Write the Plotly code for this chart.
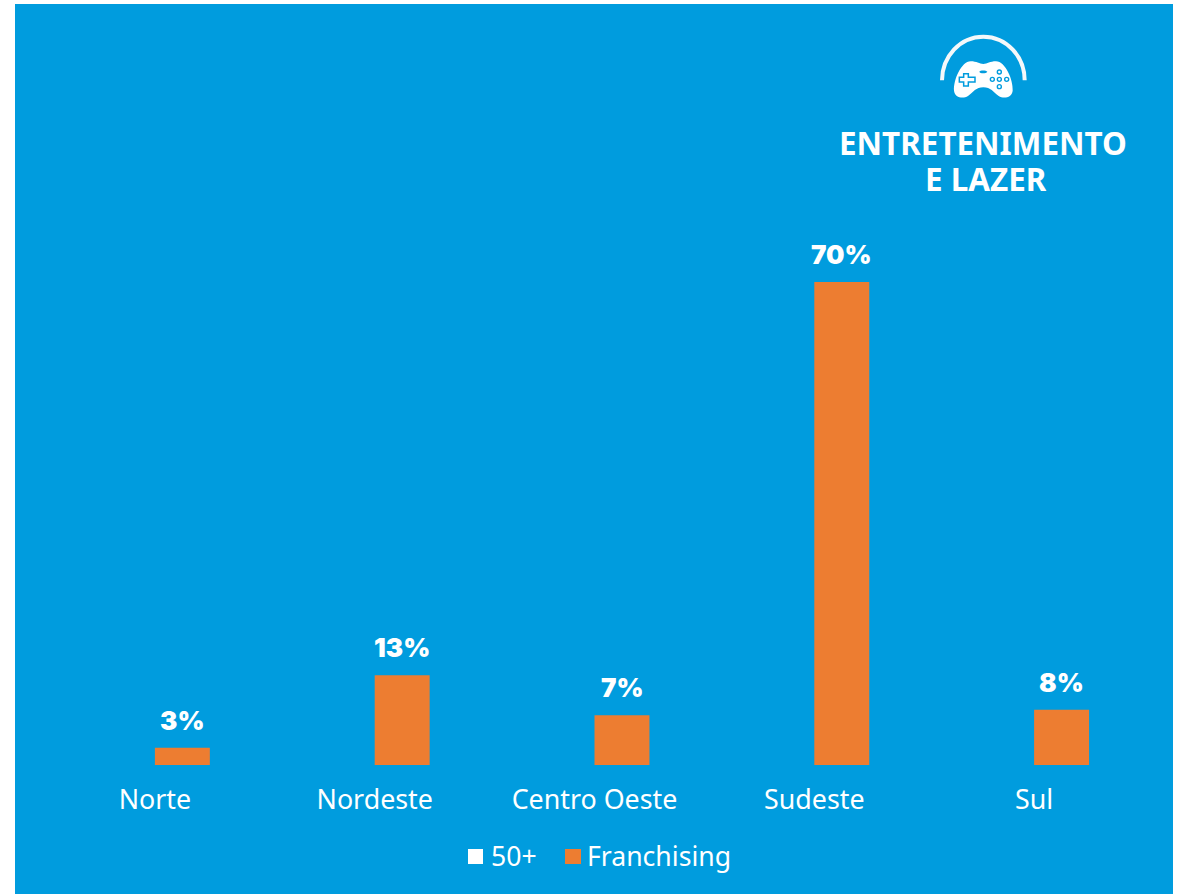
import plotly.graph_objects as go

categories = ["Norte", "Nordeste", "Centro Oeste", "Sudeste", "Sul"]
series_50 = [0, 0, 0, 0, 0]
series_franchising = [2.5, 13, 7.2, 70, 8]
value_labels = ["3%", "13%", "7%", "70%", "8%"]
series_names = ["50+", "Franchising"]

BLUE = "#009CDE"
ORANGE = "#ED7D31"
W, H = 1184, 894
L, R, T, B = 45, 40, 213, 129
PW, PH = W - L - R, H - T - B
BODY = "Noto Sans"


def X(p):
    return (p - L) / PW


def Y(p):
    return (H - B - p) / PH


def zx(z):
    return 820 + z / 3


def zy(z):
    return 20 + z / 3


def path(cmds):
    """Decorative logo path: pixel-like zoom coordinates converted to paper."""
    out = []
    for c in cmds:
        op, pts = c[0], c[1:]
        out.append(op + " ".join(f"{X(zx(a)):.5f},{Y(zy(b)):.5f}" for a, b in pts))
    return " ".join(out) + (" Z" if cmds[-1][0] == "Z" else "")


def paper_shape(d, fill=None, line=None, width=0):
    return dict(type="path", xref="paper", yref="paper", path=d,
                fillcolor=fill if fill else "rgba(0,0,0,0)",
                line=dict(color=line if line else "rgba(0,0,0,0)", width=width))


def circle(cx, cy, r):
    k = r * 0.55
    return path([
        ("M", (cx - r, cy)),
        ("C", (cx - r, cy - k), (cx - k, cy - r), (cx, cy - r)),
        ("C", (cx + k, cy - r), (cx + r, cy - k), (cx + r, cy)),
        ("C", (cx + r, cy + k), (cx + k, cy + r), (cx, cy + r)),
        ("C", (cx - k, cy + r), (cx - r, cy + k), (cx - r, cy)),
        ("Z",),
    ])


shapes = [
    dict(type="rect", xref="paper", yref="paper", layer="below",
         x0=X(15), x1=X(1173), y0=Y(4), y1=Y(894),
         fillcolor=BLUE, line=dict(width=0)),
    # logo arc
    paper_shape(path([
        ("M", (366, 181)),
        ("C", (366, 110), (420, 50), (490, 50)),
        ("C", (560, 50), (614, 110), (614, 181)),
    ]), line="#F4F8FA", width=4),
    # controller body
    paper_shape(path([
        ("M", (452, 124)),
        ("C", (470, 124), (478, 132), (490, 132)),
        ("C", (502, 132), (510, 124), (528, 124)),
        ("C", (556, 124), (580, 180), (578, 212)),
        ("C", (576, 232), (552, 238), (536, 228)),
        ("C", (520, 216), (512, 202), (490, 202)),
        ("C", (468, 202), (460, 216), (444, 228)),
        ("C", (428, 238), (404, 232), (402, 212)),
        ("C", (400, 180), (424, 124), (452, 124)),
        ("Z",),
    ]), fill="white"),
    # d-pad
    paper_shape(path([
        ("M", (431, 161)), ("L", (445, 161)), ("L", (445, 172)), ("L", (465, 172)),
        ("L", (465, 186)), ("L", (445, 186)), ("L", (445, 198)), ("L", (431, 198)),
        ("L", (431, 186)), ("L", (418, 186)), ("L", (418, 172)), ("L", (431, 172)),
        ("Z",),
    ]), fill="white", line=BLUE, width=1.5),
    # centre slot
    paper_shape(path([
        ("M", (478, 155)),
        ("C", (480, 150), (498, 150), (502, 155)),
        ("C", (498, 161), (480, 161), (478, 155)),
        ("Z",),
    ]), fill=BLUE),
]
for cx, cy in [(538, 156), (517, 178), (538, 178), (560, 178), (538, 200)]:
    shapes.append(paper_shape(circle(cx, cy, 6), fill="white", line=BLUE, width=1.4))

# legend swatches
shapes.append(dict(type="rect", xref="paper", yref="paper",
                   x0=X(468), x1=X(483), y0=Y(849), y1=Y(864),
                   fillcolor="white", line=dict(width=0)))
shapes.append(dict(type="rect", xref="paper", yref="paper",
                   x0=X(565), x1=X(581), y0=Y(849), y1=Y(864),
                   fillcolor=ORANGE, line=dict(width=0)))

annotations = [
    dict(xref="paper", yref="paper", x=X(983), y=Y(142.5), text="<b>ENTRETENIMENTO</b>",
         showarrow=False, xanchor="center", yanchor="middle", height=32,
         font=dict(family=BODY, size=31.4, color="white")),
    dict(xref="paper", yref="paper", x=X(986), y=Y(177.5), text="<b>E LAZER</b>",
         showarrow=False, xanchor="center", yanchor="middle", height=32,
         font=dict(family=BODY, size=31.4, color="white")),
    dict(xref="paper", yref="paper", x=X(489), y=Y(856), text=series_names[0],
         showarrow=False, xanchor="left", yanchor="middle",
         font=dict(family=BODY, size=26.6, color="white")),
    dict(xref="paper", yref="paper", x=X(585), y=Y(856), text=series_names[1],
         showarrow=False, xanchor="left", yanchor="middle",
         font=dict(family=BODY, size=26.6, color="white")),
]
for c, v, t in zip(categories, series_franchising, value_labels):
    annotations.append(dict(x=c, y=v, xref="x", yref="y", text=t,
                            showarrow=False, xanchor="center", yanchor="bottom",
                            xshift=27.5, yshift=10,
                            font=dict(family="Inter", weight=900, size=26, color="white")))

fig = go.Figure()
fig.add_bar(x=categories, y=series_50, name=series_names[0], marker_color="white", marker_line_width=0)
fig.add_bar(x=categories, y=series_franchising, name=series_names[1], marker_color=ORANGE, marker_line_width=0)

fig.update_layout(
    width=W, height=H,
    margin=dict(l=L, r=R, t=T, b=B, pad=0),
    paper_bgcolor="white",
    plot_bgcolor="rgba(0,0,0,0)",
    barmode="group", bargap=0.5, bargroupgap=0,
    showlegend=False,
    shapes=shapes,
    annotations=annotations,
    xaxis=dict(type="category", categoryorder="array", categoryarray=categories,
               showgrid=False, zeroline=False, showline=False,
               ticks="outside", ticklen=11, tickcolor="rgba(0,0,0,0)",
               tickfont=dict(family=BODY, size=26.8, color="white")),
    yaxis=dict(range=[0, 80], visible=False, showgrid=False, zeroline=False),
)

fig.write_html("out.html", config=dict(displayModeBar=False),
               post_script="document.body.style.margin='0';document.body.style.overflow='hidden';")
